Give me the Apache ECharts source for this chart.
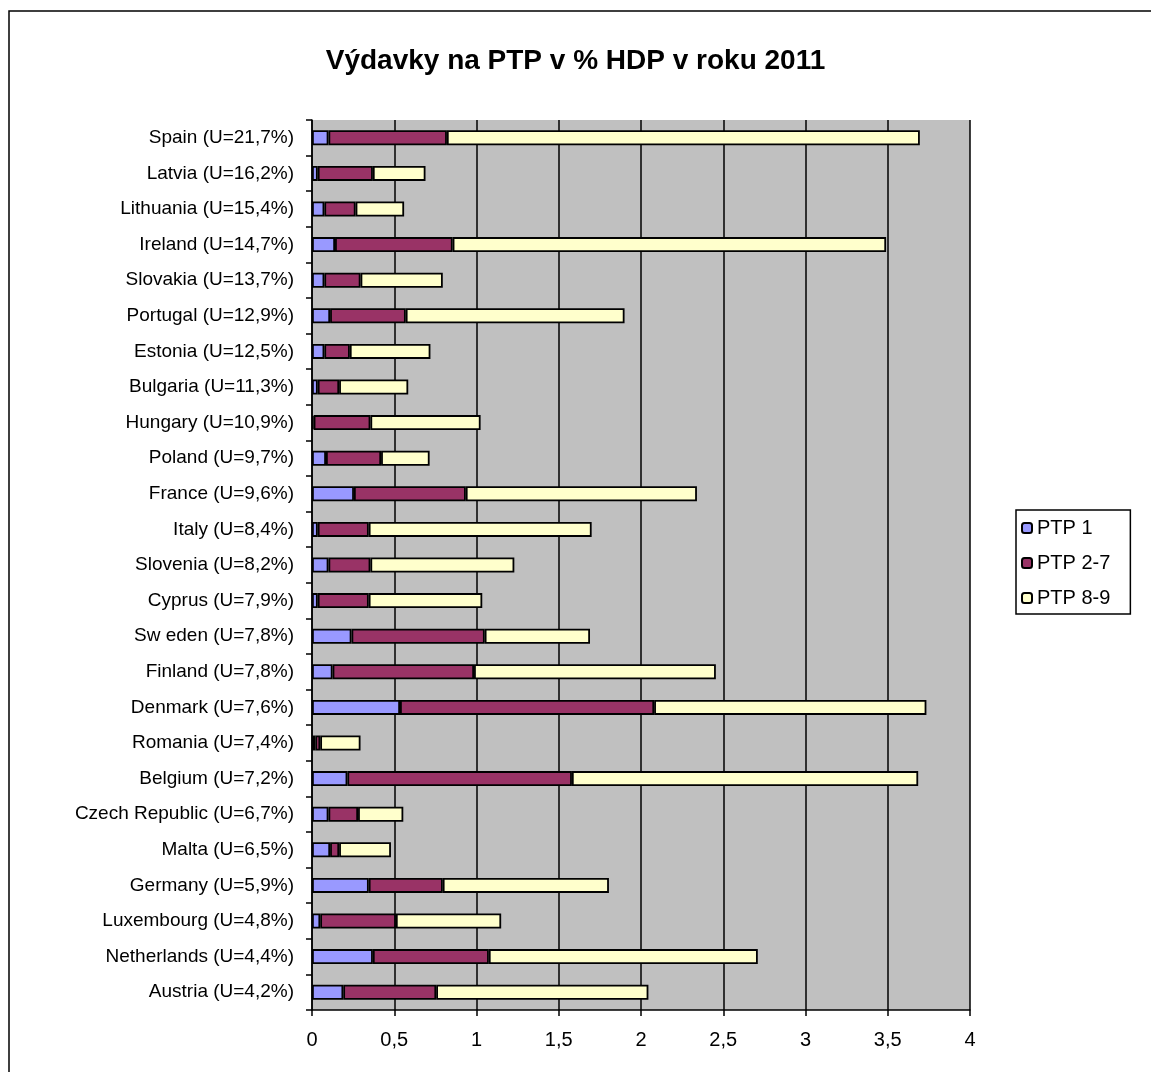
<!DOCTYPE html>
<html><head><meta charset="utf-8">
<script src="https://cdn.jsdelivr.net/npm/echarts@6/dist/echarts.min.js"></script>
<style>html,body{margin:0;padding:0;background:#fff;}#c{width:1151px;height:1072px;}</style>
</head><body><div id="c"></div>
<script>
const categories = ["Spain (U=21,7%)","Latvia (U=16,2%)","Lithuania (U=15,4%)","Ireland (U=14,7%)","Slovakia (U=13,7%)","Portugal (U=12,9%)","Estonia (U=12,5%)","Bulgaria (U=11,3%)","Hungary (U=10,9%)","Poland (U=9,7%)","France (U=9,6%)","Italy (U=8,4%)","Slovenia (U=8,2%)","Cyprus (U=7,9%)","Sw eden (U=7,8%)","Finland (U=7,8%)","Denmark (U=7,6%)","Romania (U=7,4%)","Belgium (U=7,2%)","Czech Republic (U=6,7%)","Malta (U=6,5%)","Germany (U=5,9%)","Luxembourg (U=4,8%)","Netherlands (U=4,4%)","Austria (U=4,2%)"];
const ptp1  = [0.10,0.035,0.075,0.14,0.075,0.11,0.075,0.035,0.01,0.085,0.255,0.035,0.10,0.035,0.24,0.125,0.535,0.02,0.215,0.10,0.11,0.345,0.05,0.37,0.19];
const ptp27 = [0.72,0.335,0.19,0.715,0.22,0.46,0.155,0.13,0.345,0.335,0.68,0.31,0.255,0.31,0.81,0.86,1.545,0.03,1.365,0.18,0.055,0.45,0.46,0.705,0.565];
const ptp89 = [2.875,0.32,0.295,2.635,0.50,1.33,0.49,0.42,0.67,0.295,1.405,1.355,0.875,0.69,0.64,1.47,1.655,0.245,2.105,0.275,0.315,1.01,0.64,1.635,1.29];
const seriesNames = ["PTP 1","PTP 2-7","PTP 8-9"];
const xTicks = {min:0, max:4, interval:0.5};
</script>
<script>
const chart = echarts.init(document.getElementById('c'));
const font = 'Arial, "Liberation Sans", sans-serif';
const colors = ['#9999FF','#993366','#FFFFCC'];
const data = [ptp1, ptp27, ptp89];
chart.setOption({
  animation:false,
  backgroundColor:'#fff',
  title:{text:'Výdavky na PTP v % HDP v roku 2011', left:'center', top:42,
    textStyle:{fontFamily:font, fontSize:28, fontWeight:'bold', color:'#000'}},
  graphic:[{type:'rect', shape:{x:9, y:11, width:1160, height:1080}, style:{fill:'none', stroke:'#000', lineWidth:1.5}, z:-1}],
  legend:{orient:'vertical', left:1016, top:510, data:seriesNames,
    itemWidth:10, itemHeight:10, itemGap:15, padding:[8,20,6,5],
    borderColor:'#000', borderWidth:1.5, backgroundColor:'#fff',
    textStyle:{fontFamily:font, fontSize:20, color:'#000', padding:[0,0,0,0]}},
  grid:{left:312, top:120, width:658, height:890, backgroundColor:'#C0C0C0', show:true, borderWidth:0},
  xAxis:{type:'value', min:xTicks.min, max:xTicks.max, interval:xTicks.interval,
    axisLine:{show:true, lineStyle:{color:'#000', width:1.5}},
    axisTick:{show:true, length:6, lineStyle:{color:'#000', width:1.5}},
    splitLine:{show:true, lineStyle:{color:'#000', width:1.5}},
    axisLabel:{fontFamily:font, fontSize:20, color:'#000', margin:20,
      formatter:v=>String(v).replace('.',',')}},
  yAxis:{type:'category', data:categories, inverse:true,
    axisLine:{show:true, lineStyle:{color:'#000', width:1.5}},
    axisTick:{show:true, length:6, lineStyle:{color:'#000', width:1.5}},
    axisLabel:{fontFamily:font, fontSize:19, color:'#000', margin:18}},
  series: seriesNames.map((n,i)=>({name:n, type:'bar', stack:'s', data:data[i],
    barCategoryGap:'58%',
    itemStyle:{color:colors[i], borderColor:'#000', borderWidth:1.8}}))
});
</script>
</body></html>
